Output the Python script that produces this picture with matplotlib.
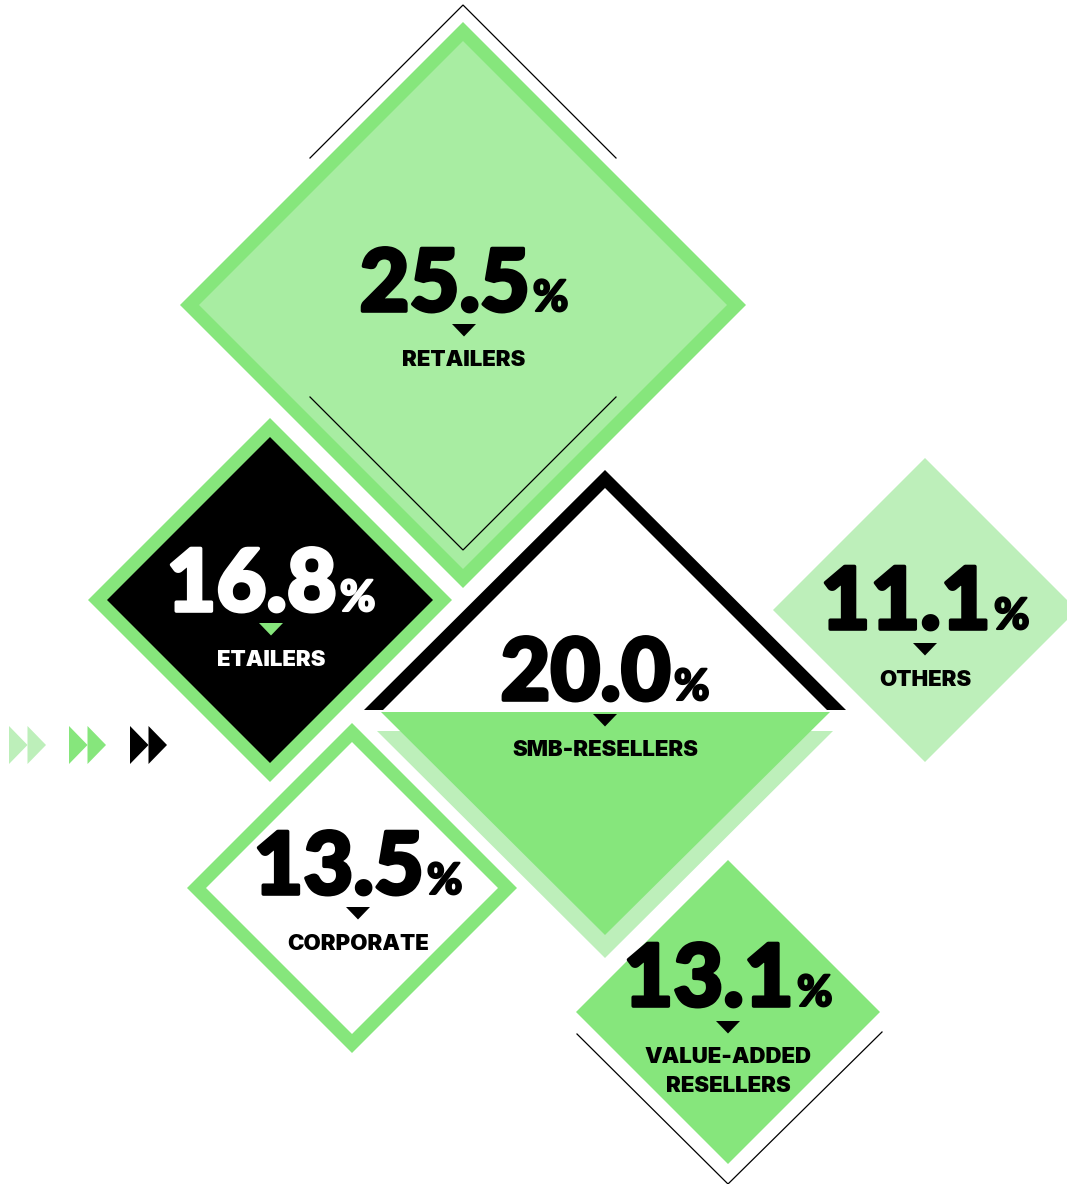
import matplotlib
matplotlib.use("Agg")
import matplotlib.pyplot as plt
import matplotlib.patheffects as pe
from matplotlib.patches import Polygon

# ---------------- data ----------------
categories = ["RETAILERS", "ETAILERS", "SMB-RESELLERS", "OTHERS", "CORPORATE", "VALUE-ADDED\nRESELLERS"]
values = [25.5, 16.8, 20.0, 11.1, 13.5, 13.1]

# ---------------- layout (pixel coordinates) ----------------
W, H = 1067, 1184
GREEN = "#86E67C"
LIGHT = "#A8EDA2"
PALE = "#BDEFBA"
BLACK = "#000000"
WHITE = "#FFFFFF"

# text anchors: (center x, number baseline, triangle top, label baseline)
text_pos = [
    (464, 311, 324, 366),
    (271, 611, 623, 666),
    (605, 700, 714, 756),
    (925, 629, 643, 686),
    (358, 894, 907, 950),
    (728, 1006, 1021, 1063),
]
num_colors = [BLACK, WHITE, BLACK, BLACK, BLACK, BLACK]
tri_colors = [BLACK, GREEN, BLACK, BLACK, BLACK, BLACK]

NUM_FONT = "Lato"
LAB_FONT = "Inter"
NUM_FS = 62
PCT_FS = 31
LAB_FS = 16

fig = plt.figure(figsize=(W / 100, H / 100), dpi=100)
ax = fig.add_axes([0, 0, 1, 1])
ax.set_xlim(0, W)
ax.set_ylim(H, 0)
ax.axis("off")


def diamond(cx, cy, h, color, z=1):
    ax.add_patch(Polygon([(cx, cy - h), (cx + h, cy), (cx, cy + h), (cx - h, cy)],
                         closed=True, facecolor=color, edgecolor="none", zorder=z))


def poly(pts, color, z=1):
    ax.add_patch(Polygon(pts, closed=True, facecolor=color, edgecolor="none", zorder=z))


def line(pts, z=5):
    xs, ys = zip(*pts)
    ax.plot(xs, ys, color=BLACK, lw=0.9, zorder=z, solid_joinstyle="miter")


# Retailers
diamond(463, 305, 283, GREEN)
diamond(463, 305, 264, LIGHT, 2)
line([(310, 158), (463, 5), (616, 158)])
line([(310, 397), (463, 550), (616, 397)])

# Etailers
diamond(270, 600, 182, GREEN)
diamond(270, 600, 163, BLACK, 2)

# SMB resellers
poly([(364, 710), (605, 470), (846, 710)], BLACK, 2)
poly([(383, 710), (605, 488), (827, 710)], WHITE, 3)
poly([(377, 731), (833, 731), (605, 958)], PALE, 2)
poly([(381, 712), (830, 712), (605, 935)], GREEN, 3)

# Others
diamond(925, 610, 152, PALE)

# Corporate
diamond(352, 888, 165, GREEN)
diamond(352, 888, 146, WHITE, 2)

# Value-added resellers
diamond(728, 1012, 152, GREEN)
line([(577, 1034), (728, 1184), (882, 1032)])

# decorative arrows
arrow_cols = [PALE, GREEN, BLACK]
arrow_x = [9, 69, 130]
for x0, c in zip(arrow_x, arrow_cols):
    for k in range(2):
        xa = x0 + k * 18.5
        poly([(xa, 726), (xa + 18.5, 745), (xa, 764)], c, 4)

renderer = fig.canvas.get_renderer()

for (cx, nb, tt, lb), v, cat, nc, tc in zip(text_pos, values, categories, num_colors, tri_colors):
    heavy = [pe.withStroke(linewidth=2.6, foreground=nc)]
    t1 = ax.text(0, nb, f"{v:.1f}", fontsize=NUM_FS, fontfamily=NUM_FONT, fontweight=900,
                 color=nc, ha="left", va="baseline", zorder=10, path_effects=heavy)
    t2 = ax.text(0, nb, "%", fontsize=PCT_FS, fontfamily=NUM_FONT, fontweight=900,
                 color=nc, ha="left", va="baseline", zorder=10,
                 path_effects=[pe.withStroke(linewidth=1.5, foreground=nc)])
    w1 = t1.get_window_extent(renderer).width
    w2 = t2.get_window_extent(renderer).width
    gap = 3
    x0 = cx - (w1 + gap + w2) / 2
    t1.set_x(x0)
    t2.set_x(x0 + w1 + gap)
    poly([(cx - 12, tt), (cx + 12, tt), (cx, tt + 12.5)], tc, 10)
    for i, ln in enumerate(cat.split("\n")):
        ax.text(cx, lb + i * 29, ln, fontsize=LAB_FS, fontfamily=LAB_FONT, fontweight=900,
                color=nc, ha="center", va="baseline", zorder=10)

fig.savefig("out.png", dpi=100)
